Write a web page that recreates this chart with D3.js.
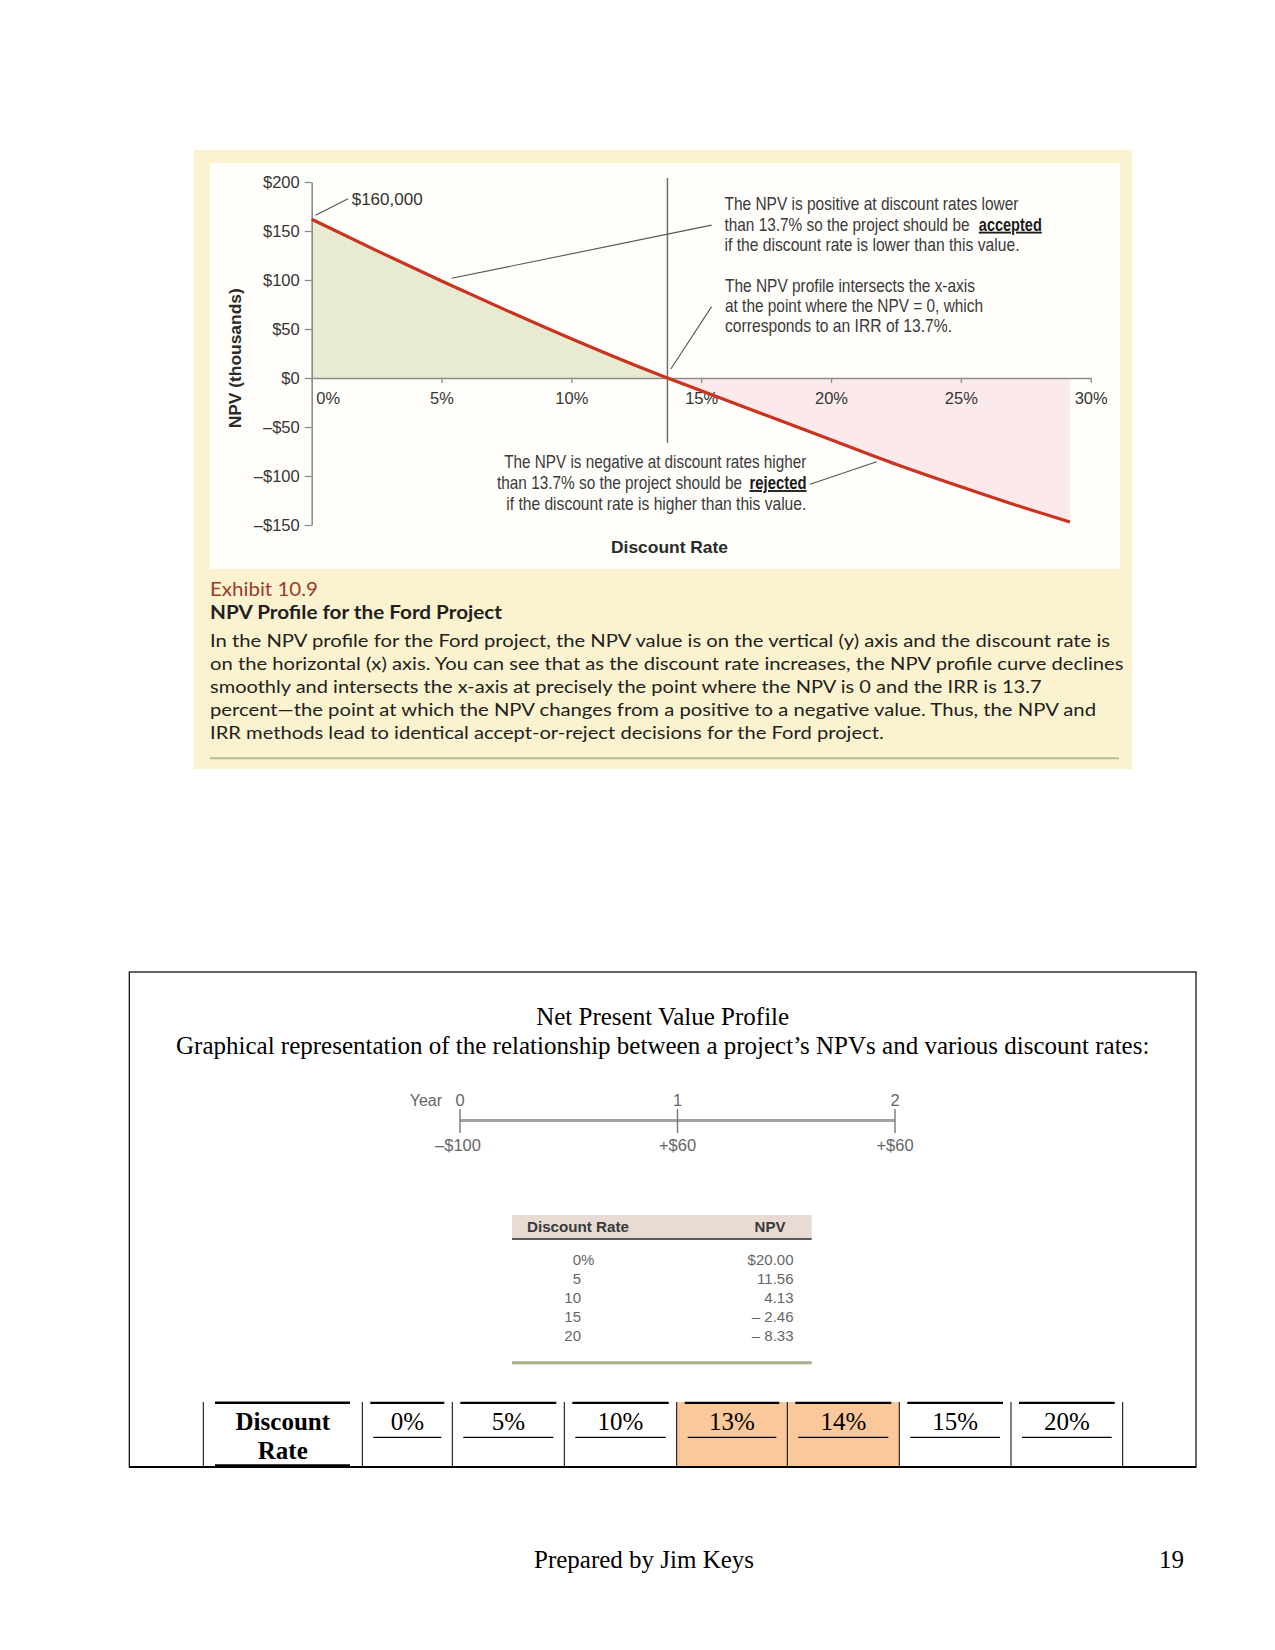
<!DOCTYPE html>
<html><head><meta charset="utf-8">
<script src="https://cdn.jsdelivr.net/npm/d3@7"></script>
<style>body{margin:0;background:#fff} svg{display:block}</style>
</head><body><svg id="page" width="1275" height="1650"></svg>
<script>
// ---------------- DATA ----------------
const discountRates = [0, 2.5, 5, 7.5, 10, 12.5, 13.7, 15, 17.5, 20, 22.5, 25, 27.5, 29.2];
const npvThousands  = [162, 130, 99, 69, 40, 12.5, 0, -13, -38, -63, -88, -111, -133, -147];
const irr = 13.7;
const yTicks = [200, 150, 100, 50, 0, -50, -100, -150];
const xTicks = [0, 5, 10, 15, 20, 25, 30];
const irrLineSpan = [204, -66];

// each line: [plain text, optional bold/underlined word]
const notePositive = [
  ["The NPV is positive at discount rates lower"],
  ["than 13.7% so the project should be", "accepted"],
  ["if the discount rate is lower than this value."]
];
const noteIntersect = [
  ["The NPV profile intersects the x-axis"],
  ["at the point where the NPV = 0, which"],
  ["corresponds to an IRR of 13.7%."]
];
const noteNegative = [
  ["The NPV is negative at discount rates higher"],
  ["than 13.7% so the project should be", "rejected"],
  ["if the discount rate is higher than this value."]
];
const captionLines = [
  "In the NPV profile for the Ford project, the NPV value is on the vertical (y) axis and the discount rate is",
  "on the horizontal (x) axis. You can see that as the discount rate increases, the NPV profile curve declines",
  "smoothly and intersects the x-axis at precisely the point where the NPV is 0 and the IRR is 13.7",
  "percent\u2014the point at which the NPV changes from a positive to a negative value. Thus, the NPV and",
  "IRR methods lead to identical accept-or-reject decisions for the Ford project."
];

const timelineYears = [0, 1, 2];
const timelineFlows = ["\u2013$100", "+$60", "+$60"];

const smallRates = ["0", "5", "10", "15", "20"];
const smallNPV = ["$20.00", "11.56", "4.13", "\u2013 2.46", "\u2013 8.33"];

const tableRates = ["0%", "5%", "10%", "13%", "14%", "15%", "20%"];
const tableHighlighted = ["13%", "14%"];

// ---------------- HELPERS ----------------
const svg = d3.select("#page");
svg.append("rect").attr("width",1275).attr("height",1650).attr("fill","#fff");

function label(parent, x, y, str, o) {
  const t = parent.append("text").attr("x", x).attr("y", y)
    .attr("font-family", o.family).attr("font-size", o.size)
    .attr("fill", o.fill || "#222").attr("text-anchor", o.anchor || "start").text(str);
  if (o.weight) t.attr("font-weight", o.weight);
  if (o.u) t.attr("text-decoration", "underline");
  if (o.len) t.attr("textLength", o.len).attr("lengthAdjust", "spacingAndGlyphs");
  return t;
}
const SANS = "'Liberation Sans', Arial, Helvetica, sans-serif";
const NARROW = "'Liberation Sans Narrow', 'Arial Narrow', 'Liberation Sans', Arial, sans-serif";
const SERIF = "'Liberation Serif', 'Times New Roman', Times, serif";
const CAP = "Lato, 'Open Sans', sans-serif";

// ---------------- EXHIBIT ----------------
svg.append("rect").attr("x",194).attr("y",150).attr("width",938).attr("height",619).attr("fill","#fbf2cf");
svg.append("rect").attr("x",210).attr("y",163).attr("width",910).attr("height",406).attr("fill","#fffefa");

const x = d3.scaleLinear().domain([0, 30]).range([311.7, 1090.7]);
const y = d3.scaleLinear().domain([-150, 200]).range([525, 182]);
const pts = discountRates.map((r, i) => ({r, v: npvThousands[i]}));

const area = d3.area().x(d => x(d.r)).y0(y(0)).y1(d => y(d.v)).curve(d3.curveMonotoneX);
svg.append("path").datum(pts.filter(d => d.r <= irr)).attr("d", area).attr("fill", "#e9ead2");
svg.append("path").datum(pts.filter(d => d.r >= irr)).attr("d", area).attr("fill", "#fce9eb");

// IRR vertical
svg.append("line").attr("x1", x(irr)).attr("x2", x(irr))
  .attr("y1", y(irrLineSpan[0])).attr("y2", y(irrLineSpan[1]))
  .attr("stroke", "#6f6f6f").attr("stroke-width", 1.5);

const fmtY = d => d < 0 ? "\u2013$" + (-d) : "$" + d;
const gy = svg.append("g").attr("transform", `translate(${x(0)},0)`)
  .call(d3.axisLeft(y).tickValues(yTicks).tickSize(7).tickSizeOuter(0).tickPadding(5).tickFormat(fmtY));
const gx = svg.append("g").attr("transform", `translate(0,${y(0)})`)
  .call(d3.axisBottom(x).tickValues(xTicks).tickSize(5).tickSizeOuter(0).tickPadding(9).tickFormat(d => d + "%"));
[gy, gx].forEach(g => {
  g.select(".domain").attr("stroke", "#8c8c8c").attr("stroke-width", 1.6);
  g.selectAll(".tick line").attr("stroke", "#8c8c8c").attr("stroke-width", 1.3);
  g.selectAll(".tick text").attr("font-family", SANS).attr("font-size", 16.5).attr("fill", "#363636");
});
gx.selectAll(".tick text").filter(d => d === 0).attr("x", 16);

// curve
svg.append("path").datum(pts)
  .attr("d", d3.line().x(d => x(d.r)).y(d => y(d.v)).curve(d3.curveMonotoneX))
  .attr("fill", "none").attr("stroke", "#c9331f").attr("stroke-width", 3.2);

// leader lines (data coords)
const leaders = [
  [[0.15, 166], [1.4, 183]],
  [[15.4, 156], [5.39, 101.7]],
  [[15.4, 72.8], [13.83, 9.2]],
  [[19.19, -108.5], [21.76, -85.4]]
];
leaders.forEach(([a, b]) => svg.append("line")
  .attr("x1", x(a[0])).attr("y1", y(a[1])).attr("x2", x(b[0])).attr("y2", y(b[1]))
  .attr("stroke", "#555").attr("stroke-width", 1.1));

// annotations
label(svg, 351.7, 205, "$160,000", {family: SANS, size: 17, fill: "#333", len: 71});
const NOTE = {family: NARROW, size: 18.5, fill: "#3a3a3a"};
const posW = [294, 245, 295], intW = [250, 258, 227], negW = [302, 245, 300];
notePositive.forEach((p, i) => {
  const by = 210 + i * 20.7;
  label(svg, 724.5, by, p[0], {...NOTE, len: posW[i]});
  if (p[1]) label(svg, 978.8, by, p[1], {...NOTE, fill: "#1a1a1a", weight: "bold", u: 1, len: 63});
});
noteIntersect.forEach((p, i) => label(svg, 725, 291.7 + i * 20.3, p[0], {...NOTE, len: intW[i]}));
noteNegative.forEach((p, i) => {
  const by = 468.3 + i * 20.8;
  if (p[1]) {
    label(svg, 806.5, by, p[1], {...NOTE, fill: "#1a1a1a", weight: "bold", u: 1, anchor: "end", len: 57});
    label(svg, 742, by, p[0], {...NOTE, anchor: "end", len: negW[i]});
  } else {
    label(svg, 806.3, by, p[0], {...NOTE, anchor: "end", len: negW[i]});
  }
});

// axis titles
label(svg, 0, 0, "NPV (thousands)", {family: SANS, size: 16, weight: "bold", fill: "#2a2a2a", anchor: "middle", len: 140})
  .attr("transform", "translate(241,358.3) rotate(-90)");
label(svg, 669.5, 553, "Discount Rate", {family: SANS, size: 17, weight: "bold", fill: "#2a2a2a", anchor: "middle", len: 117});

// caption
label(svg, 210, 596, "Exhibit 10.9", {family: CAP, size: 19, fill: "#9c3b2b", len: 108});
label(svg, 210, 619, "NPV Profile for the Ford Project", {family: CAP, size: 19, weight: "bold", fill: "#231f20", len: 292});
const capW = [900, 913.5, 831.5, 886, 673.7];
captionLines.forEach((s, i) => label(svg, 210, 646.6 + i * 23.2, s, {family: CAP, size: 17.5, fill: "#231f20", len: capW[i]}));
svg.append("line").attr("x1", 210).attr("x2", 1119).attr("y1", 758.3).attr("y2", 758.3)
  .attr("stroke", "#b7bb9b").attr("stroke-width", 2);

// ---------------- LOWER BOX ----------------
svg.append("rect").attr("x", 129.3).attr("y", 972).attr("width", 1066.7).attr("height", 495.3)
  .attr("fill", "none").attr("stroke", "#000").attr("stroke-width", 1.2);
label(svg, 662.7, 1025, "Net Present Value Profile", {family: SERIF, size: 25, fill: "#000", anchor: "middle"});
label(svg, 662.7, 1054, "Graphical representation of the relationship between a project\u2019s NPVs and various discount rates:",
  {family: SERIF, size: 25, fill: "#000", anchor: "middle"});

// timeline
const tl = d3.scaleLinear().domain([0, 2]).range([460, 895]);
svg.append("line").attr("x1", tl(0)).attr("x2", tl(2)).attr("y1", 1120.5).attr("y2", 1120.5)
  .attr("stroke", "#a2a2a2").attr("stroke-width", 3);
timelineYears.forEach((yr, i) => {
  svg.append("line").attr("x1", tl(yr)).attr("x2", tl(yr)).attr("y1", 1109).attr("y2", 1133)
    .attr("stroke", "#777").attr("stroke-width", 1.4);
  label(svg, tl(yr), 1106, String(yr), {family: SANS, size: 16.5, fill: "#666", anchor: "middle"});
  label(svg, tl(yr) - (i === 0 ? 2 : 0), 1151, timelineFlows[i], {family: SANS, size: 16.5, fill: "#666", anchor: "middle"});
});
label(svg, 442, 1106, "Year", {family: SANS, size: 16, fill: "#666", anchor: "end"});

// small table
svg.append("rect").attr("x", 512).attr("y", 1215).attr("width", 299.7).attr("height", 23.5).attr("fill", "#e8dbd3");
svg.append("line").attr("x1", 512).attr("x2", 811.7).attr("y1", 1239).attr("y2", 1239).attr("stroke", "#5a5a5a").attr("stroke-width", 1.8);
label(svg, 527, 1231.5, "Discount Rate", {family: SANS, size: 15, weight: "bold", fill: "#3a3a3a", len: 102});
label(svg, 770, 1231.5, "NPV", {family: SANS, size: 15, weight: "bold", fill: "#3a3a3a", anchor: "middle"});
smallRates.forEach((r, i) => {
  const by = 1264.5 + i * 19.2;
  label(svg, 581, by, r, {family: SANS, size: 15, fill: "#666", anchor: "end"});
  if (i === 0) label(svg, 581, by, "%", {family: SANS, size: 15, fill: "#666"});
  label(svg, 793.5, by, smallNPV[i], {family: SANS, size: 15, fill: "#666", anchor: "end"});
});
svg.append("line").attr("x1", 512).attr("x2", 811.7).attr("y1", 1362.7).attr("y2", 1362.7).attr("stroke", "#a9ae8c").attr("stroke-width", 3);

// bottom table
const colEdges = [203.3, 362.3, 452.3, 564.3, 676.7, 787.3, 899.3, 1011, 1122.7];
const tTop = 1402, tBot = 1467;
tableRates.forEach((r, i) => {
  const x0 = colEdges[i + 1], x1 = colEdges[i + 2];
  if (tableHighlighted.includes(r))
    svg.append("rect").attr("x", x0).attr("y", tTop).attr("width", x1 - x0).attr("height", tBot - tTop).attr("fill", "#fac89a");
  svg.append("line").attr("x1", x0 + 8).attr("x2", x1 - 8).attr("y1", tTop + 0.8).attr("y2", tTop + 0.8).attr("stroke", "#000").attr("stroke-width", 2.2);
  svg.append("line").attr("x1", x0 + 11).attr("x2", x1 - 11).attr("y1", 1437.3).attr("y2", 1437.3).attr("stroke", "#000").attr("stroke-width", 1.2);
  label(svg, (x0 + x1) / 2, 1429.5, r, {family: SERIF, size: 25, fill: "#000", anchor: "middle"});
});
svg.append("line").attr("x1", 215).attr("x2", 350).attr("y1", tTop + 0.8).attr("y2", tTop + 0.8).attr("stroke", "#000").attr("stroke-width", 2.4);
svg.append("line").attr("x1", 215).attr("x2", 350).attr("y1", 1465.5).attr("y2", 1465.5).attr("stroke", "#000").attr("stroke-width", 2.4);
label(svg, (colEdges[0] + colEdges[1]) / 2, 1429.5, "Discount", {family: SERIF, size: 25, weight: "bold", fill: "#000", anchor: "middle"});
label(svg, (colEdges[0] + colEdges[1]) / 2, 1458.5, "Rate", {family: SERIF, size: 25, weight: "bold", fill: "#000", anchor: "middle"});
colEdges.forEach(cx => svg.append("line").attr("x1", cx).attr("x2", cx).attr("y1", tTop).attr("y2", tBot)
  .attr("stroke", "#000").attr("stroke-width", 1));
svg.append("line").attr("x1", 129.3).attr("x2", 1196).attr("y1", 1467).attr("y2", 1467).attr("stroke", "#000").attr("stroke-width", 2);

// footer
label(svg, 534, 1568, "Prepared by Jim Keys", {family: SERIF, size: 25, fill: "#000"});
label(svg, 1184, 1568, "19", {family: SERIF, size: 25, fill: "#000", anchor: "end"});
</script></body></html>
